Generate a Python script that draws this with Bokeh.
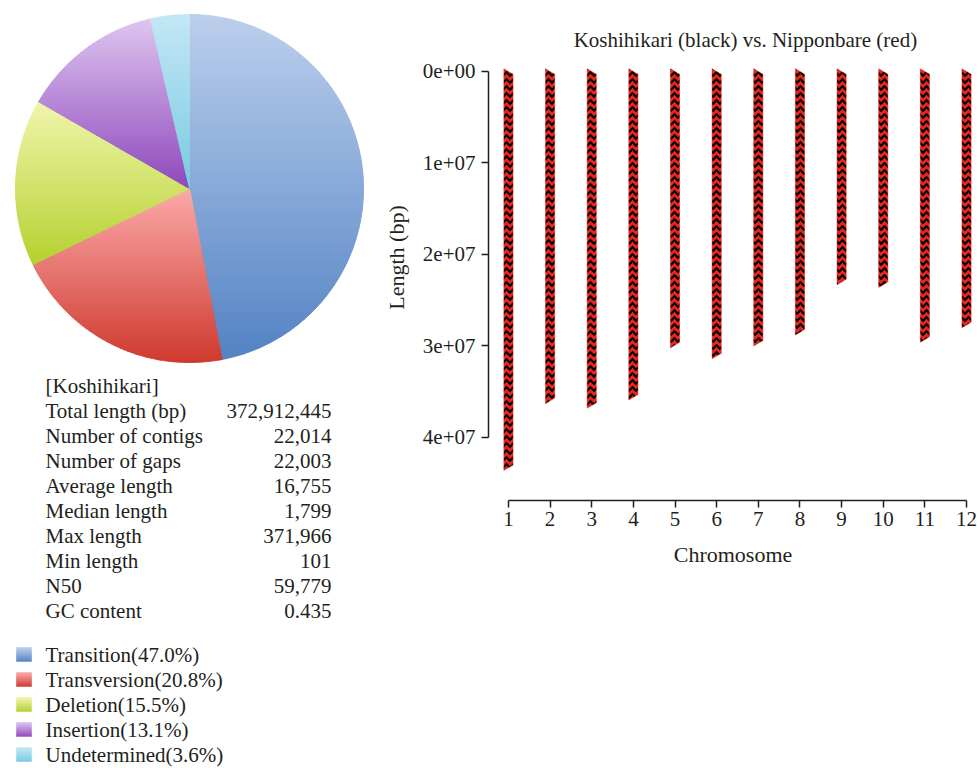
import numpy as np
from bokeh.plotting import figure
from bokeh.layouts import row, column
from bokeh.models import Range1d, FixedTicker, CustomJSTickFormatter
from bokeh.core.properties import value
from bokeh.embed import file_html
from bokeh.resources import INLINE

# ---------------- data ----------------
VARIANT_TYPES = ["Transition", "Transversion", "Deletion", "Insertion", "Undetermined"]
VARIANT_PCT = [47.0, 20.8, 15.5, 13.1, 3.6]
SLICE_TOP = ["#bccfec", "#fbaaaa", "#f1f5ac", "#dec6f0", "#c4e7f5"]
SLICE_BOTTOM = ["#5383c4", "#cf3a2f", "#b4d12f", "#8f48bc", "#78cbe2"]

STAT_TITLE = "[Koshihikari]"
STAT_NAMES = ["Total length (bp)", "Number of contigs", "Number of gaps",
              "Average length", "Median length", "Max length", "Min length",
              "N50", "GC content"]
STAT_VALUES = ["372,912,445", "22,014", "22,003", "16,755", "1,799",
               "371,966", "101", "59,779", "0.435"]

CHROMOSOMES = list(range(1, 13))
CHROM_LENGTH_MB = [43.3, 36.0, 36.5, 35.6, 29.9, 31.1, 29.7, 28.5, 23.0, 23.3, 29.3, 27.7]
Y_TICKS = [0, 10_000_000, 20_000_000, 30_000_000, 40_000_000]
Y_TICK_LABELS = ["0e+00", "1e+07", "2e+07", "3e+07", "4e+07"]
PLOT_TITLE = "Koshihikari (black) vs. Nipponbare (red)"

FONT = "Liberation Serif"
INK = "#231f20"


def hex_rgb(h):
    h = h.lstrip("#")
    return np.array([int(h[i:i + 2], 16) for i in (0, 2, 4)], dtype=float)


def mix(c0, c1, t):
    c = hex_rgb(c0) * (1 - t) + hex_rgb(c1) * t
    return "#%02x%02x%02x" % tuple(int(round(v)) for v in c)


def clip_y(xs, ys, y0, keep_above):
    """Clip a polygon against the horizontal line y = y0."""
    ox, oy = [], []
    n = len(xs)
    for k in range(n):
        x1, y1 = xs[k], ys[k]
        x2, y2 = xs[(k + 1) % n], ys[(k + 1) % n]
        in1 = y1 >= y0 if keep_above else y1 <= y0
        in2 = y2 >= y0 if keep_above else y2 <= y0
        if in1:
            ox.append(x1)
            oy.append(y1)
        if in1 != in2:
            t = (y0 - y1) / (y2 - y1)
            ox.append(x1 + t * (x2 - x1))
            oy.append(y0)
    return ox, oy


def gradient_bands(xs, ys, top, bottom, n):
    """Split a convex polygon into horizontal bands with a vertical colour ramp."""
    y_min, y_max = min(ys), max(ys)
    edges = np.linspace(y_min, y_max, n + 1)
    bx, by, bc = [], [], []
    for k in range(n):
        cx, cy = clip_y(xs, ys, edges[k], True)
        if len(cx) < 3:
            continue
        cx, cy = clip_y(cx, cy, edges[k + 1], False)
        if len(cx) < 3:
            continue
        bx.append([float(v) for v in cx])
        by.append([float(v) for v in cy])
        bc.append(mix(top, bottom, (k + 0.5) / n))
    return bx, by, bc


# ---------------- left panel: pie, summary table, legend ----------------
left = figure(width=380, height=768, x_range=Range1d(0, 380), y_range=Range1d(768, 0),
              output_backend="svg", toolbar_location=None, min_border=0)
left.axis.visible = False
left.grid.visible = False
left.outline_line_color = None

CX, CY, R = 189, 188, 174
frac = np.array(VARIANT_PCT) / sum(VARIANT_PCT)
angles = np.concatenate([[0.0], np.cumsum(frac)]) * 2 * np.pi
all_x, all_y, all_c = [], [], []
for i in range(len(VARIANT_TYPES)):
    th = np.linspace(angles[i], angles[i + 1], 160)
    px = [CX] + list(CX + R * np.sin(th))
    py = [CY] + list(CY - R * np.cos(th))
    bx, by, bc = gradient_bands(px, py, SLICE_TOP[i], SLICE_BOTTOM[i], 60)
    all_x += bx
    all_y += by
    all_c += bc
left.patches(all_x, all_y, fill_color=all_c, line_color=all_c, line_width=1)

# summary table
row_y = [385 + 25 * k for k in range(len(STAT_NAMES) + 1)]
left.text(x=[45], y=[row_y[0]], text=[STAT_TITLE], text_font=value(FONT),
          text_font_size="21px", text_baseline="middle", text_color=INK)
left.text(x=[45] * len(STAT_NAMES), y=row_y[1:], text=STAT_NAMES, text_font=value(FONT),
          text_font_size="21px", text_baseline="middle", text_color=INK)
left.text(x=[331] * len(STAT_VALUES), y=row_y[1:], text=STAT_VALUES, text_font=value(FONT),
          text_font_size="21px", text_baseline="middle", text_align="right", text_color=INK)

# legend
leg_y = [654 + 25 * k for k in range(len(VARIANT_TYPES))]
lx, ly, lc = [], [], []
for i, yc in enumerate(leg_y):
    sx = [16, 31, 31, 16]
    sy = [yc - 7, yc - 7, yc + 7, yc + 7]
    bx, by, bc = gradient_bands(sx, sy, SLICE_TOP[i], SLICE_BOTTOM[i], 7)
    lx += bx
    ly += by
    lc += bc
left.patches(lx, ly, fill_color=lc, line_color=lc, line_width=0.5)
legend_text = [f"{n}({p:.1f}%)" for n, p in zip(VARIANT_TYPES, VARIANT_PCT)]
left.text(x=[45] * len(legend_text), y=leg_y, text=legend_text, text_font=value(FONT),
          text_font_size="21px", text_baseline="middle", text_color=INK)

# ---------------- right panel: chromosome comparison ----------------
right = figure(width=597, height=768,
               x_range=Range1d(0.5207, 12.2636), y_range=Range1d(46.89e6, -6.23e6),
               output_backend="svg", toolbar_location=None,
               min_border_left=107, min_border_right=0, min_border_top=14, min_border_bottom=268)
right.grid.visible = False
right.outline_line_color = None

hw = 0.11
slant = 0.3e6
bar_x, bar_y = [], []
for c, L in zip(CHROMOSOMES, CHROM_LENGTH_MB):
    Lb = L * 1e6
    bar_x.append([c - hw, c + hw, c + hw, c - hw])
    bar_y.append([-slant, slant, Lb - slant, Lb + slant])
right.patches(bar_x, bar_y, fill_color="#e2281e", line_color="#e2281e", line_width=0.5,
              hatch_pattern="horizontal_wave", hatch_color="black", hatch_scale=7, hatch_weight=2.2)

right.text(x=[6.69], y=[-3.4e6], text=[PLOT_TITLE], text_font=value(FONT), text_font_size="21px",
           text_align="center", text_baseline="middle", text_color=INK)

xa = right.xaxis[0]
ya = right.yaxis[0]
xa.ticker = FixedTicker(ticks=CHROMOSOMES)
xa.bounds = (1, 12)
xa.axis_label = "Chromosome"
ya.ticker = FixedTicker(ticks=Y_TICKS)
ya.bounds = (0, 40_000_000)
ya.formatter = CustomJSTickFormatter(
    args=dict(tick_values=Y_TICKS, tick_texts=Y_TICK_LABELS),
    code="const i = tick_values.indexOf(tick); return i >= 0 ? tick_texts[i] : '';")
ya.axis_label = "Length (bp)"
for ax in (xa, ya):
    ax.axis_line_width = 1.5
    ax.axis_line_color = INK
    ax.major_tick_line_width = 1.5
    ax.major_tick_line_color = INK
    ax.major_tick_out = 7
    ax.major_tick_in = 0
    ax.minor_tick_out = 0
    ax.minor_tick_in = 0
    ax.major_label_text_font = FONT
    ax.major_label_text_font_size = "21px"
    ax.major_label_text_color = INK
    ax.axis_label_text_font = FONT
    ax.axis_label_text_font_size = "22px"
    ax.axis_label_text_font_style = "normal"
    ax.axis_label_text_color = INK
xa.major_label_standoff = 4
xa.axis_label_standoff = 13
ya.major_label_standoff = 6
ya.axis_label_standoff = 11

layout = row(column(left), column(right))
open("out.html", "w").write(file_html(layout, INLINE))
